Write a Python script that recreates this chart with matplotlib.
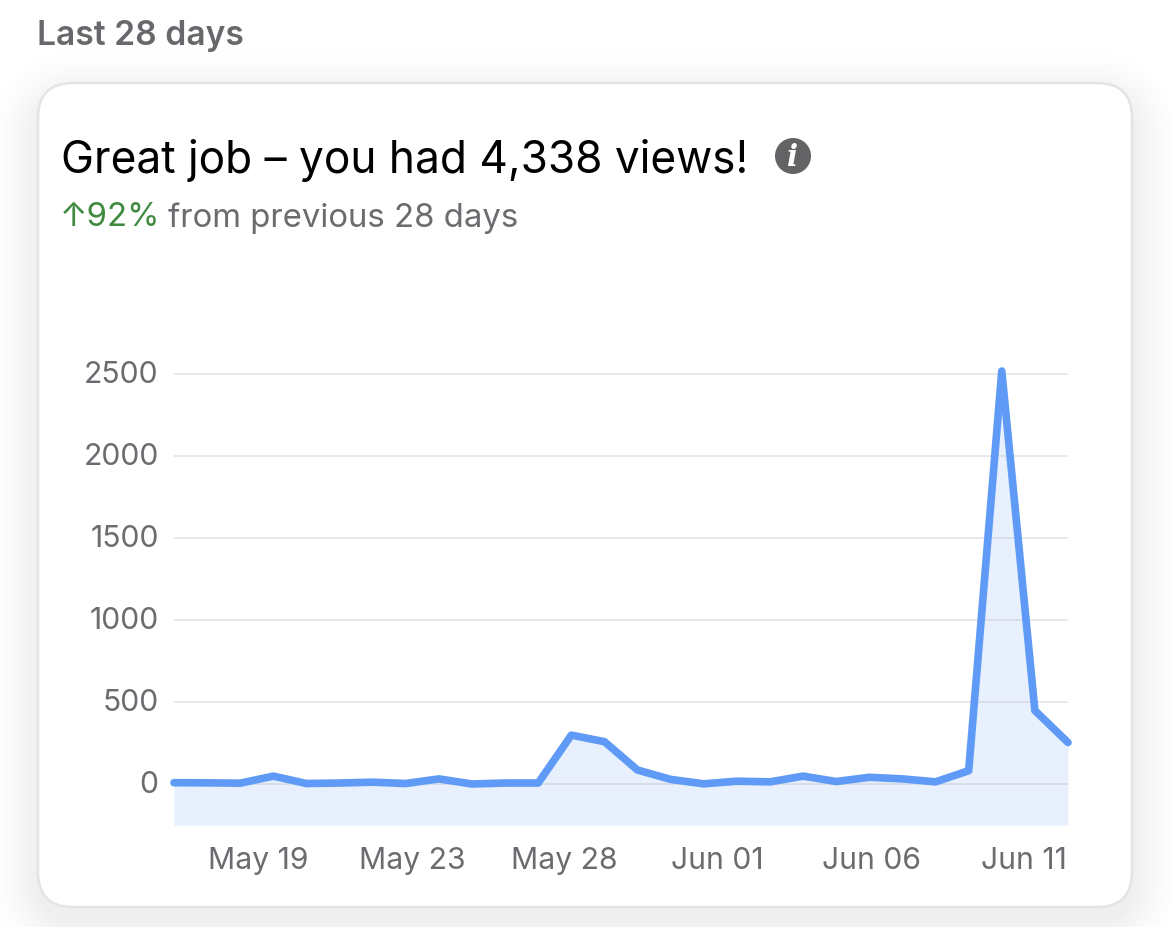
import matplotlib
matplotlib.use("Agg")
import numpy as np
import matplotlib.pyplot as plt
from matplotlib.patches import FancyBboxPatch, Circle

days = list(range(28))
views = [5, 4, 2, 45, 0, 3, 8, 0, 28, -3, 3, 3, 295, 255, 82, 25, -2, 14, 10, 45,
         12, 38, 28, 10, 78, 2515, 445, 250]
y_ticks = [0, 500, 1000, 1500, 2000, 2500]
x_tick_labels = ["May 19", "May 23", "May 28", "Jun 01", "Jun 06", "Jun 11"]
x_tick_pos = [2.54, 7.19, 11.8, 16.42, 21.06, 25.66]
header = "Last 28 days"
title = "Great job – you had 4,338 views!"
change = "↑92%"
subtitle = "from previous 28 days"

W, H = 1170, 928
plt.rcParams['font.family'] = ['Inter', 'DejaVu Sans']
fig = plt.figure(figsize=(W / 100, H / 100), dpi=100)

bg = fig.add_axes([0, 0, 1, 1], zorder=0)

# soft card shadow as a smooth background image (distance from a rounded box)
cx0, cx1, cy0, cy1, rad = 38, 1132, 84, 908, 35
yy, xx = np.mgrid[0:H, 0:W] + 0.5
offset = 14
qx = np.abs(xx - (cx0 + cx1) / 2) - ((cx1 - cx0) / 2 - rad)
qy = np.abs(yy - offset - (cy0 + cy1) / 2) - ((cy1 - cy0) / 2 - rad)
dist = np.hypot(np.maximum(qx, 0), np.maximum(qy, 0)) + np.minimum(np.maximum(qx, qy), 0) - rad
shade = np.clip(1 - dist / 55, 0, 1) ** 1.6
bg.imshow(1 - 0.065 * shade, cmap="gray", vmin=0, vmax=1, extent=[0, W, H, 0], aspect="auto",
          interpolation="nearest")
bg.set_xlim(0, W)
bg.set_ylim(H, 0)
bg.axis("off")

card = FancyBboxPatch((cx0 + rad, cy0 + rad), cx1 - cx0 - 2 * rad, cy1 - cy0 - 2 * rad,
                      boxstyle=f"round,pad={rad},rounding_size={rad}",
                      fc="white", ec="#e3e4e6", lw=1.8)
bg.add_patch(card)
bg.text(37, 36, header, fontsize=24.2, color="#67686c", fontweight="semibold", va="center", ha="left")
bg.text(61, 160, title, fontsize=31.8, color="black", va="center", ha="left")
bg.text(60, 218, change, fontsize=23.7, color="#3f8a3f", va="center", ha="left")
bg.text(168, 218, subtitle, fontsize=23.7, color="#6b6c70", va="center", ha="left")
bg.add_patch(Circle((793, 157), 18, fc="#636366", ec="none"))
bg.text(793, 157, "i", fontsize=21, color="white", fontweight="bold", fontstyle="italic",
        family="DejaVu Serif", ha="center", va="center")

x0, x1 = 174, 1068
y_top, y_bot = 360, 826
ax = fig.add_axes([x0 / W, 1 - y_bot / H, (x1 - x0) / W, (y_bot - y_top) / H], zorder=1)
ax.patch.set_alpha(0)
ppu = (784.5 - 374.5) / 2500
ax.set_xlim(0, 27)
ax.set_ylim(-(y_bot - 784.5) / ppu, (784.5 - y_top) / ppu)
for s in ax.spines.values():
    s.set_visible(False)
ax.fill_between(days, views, ax.get_ylim()[0], color="#e7f0fc", lw=0, zorder=1)
ax.set_yticks(y_ticks)
ax.grid(axis="y", color="#c4c9d1", lw=1.1, alpha=0.55, zorder=2)
ax.set_axisbelow(False)
ax.plot(days, views, color="#5f9bf6", lw=5.5, solid_joinstyle="round", solid_capstyle="round",
        zorder=3, clip_on=False)
ax.set_xticks(x_tick_pos)
ax.set_xticklabels(x_tick_labels)
ax.tick_params(axis="both", length=0, labelsize=21.7, labelcolor="#6b6c70")
ax.tick_params(axis="x", pad=15)
ax.tick_params(axis="y", pad=11)
for lab in ax.get_yticklabels():
    lab.set_transform(lab.get_transform() + matplotlib.transforms.ScaledTranslation(0, 2 / 100, fig.dpi_scale_trans))
fig.savefig("out.png", dpi=100)
